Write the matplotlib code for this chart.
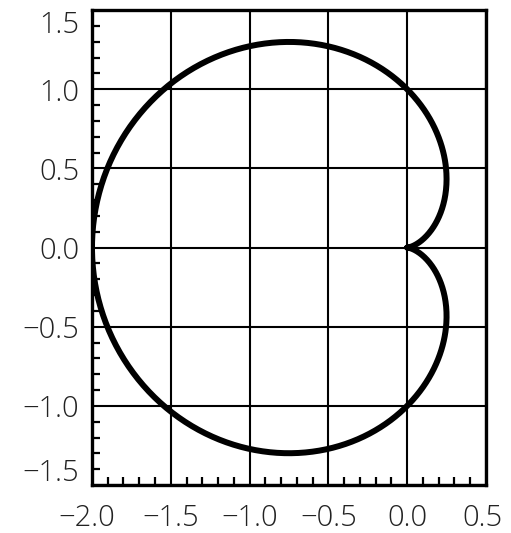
import numpy as np
import matplotlib.pyplot as plt
import matplotlib.transforms as mtransforms
from matplotlib.ticker import MultipleLocator

# cardioid r = a * (1 - cos(theta))
a = 1.0
theta = np.linspace(0, 2 * np.pi, 721)

x_ticks = [-2.0, -1.5, -1.0, -0.5, 0.0, 0.5]
y_ticks = [-1.5, -1.0, -0.5, 0.0, 0.5, 1.0, 1.5]
x_labels = ['\u22122.0', '\u22121.5', '\u22121.0', '\u22120.5', '0.0', '0.5']
y_labels = ['\u22121.5', '\u22121.0', '\u22120.5', '0.0', '0.5', '1.0', '1.5']

r = a * (1 - np.cos(theta))
xs = r * np.cos(theta)
ys = r * np.sin(theta)

plt.rcParams['font.family'] = ['Open Sans', 'DejaVu Sans']

fig = plt.figure(figsize=(5.11, 5.33), dpi=100)
ax = fig.add_axes([0.180, 0.090, 0.771, 0.891])

ax.plot(xs, ys, color='black', linewidth=4.3, solid_capstyle='round', zorder=3)

ax.set_xlim(-2.0, 0.5)
ax.set_ylim(-1.5, 1.5)

ax.set_xticks(x_ticks)
ax.set_xticklabels(x_labels)
ax.set_yticks(y_ticks)
ax.set_yticklabels(y_labels)
ax.xaxis.set_minor_locator(MultipleLocator(0.1))
ax.yaxis.set_minor_locator(MultipleLocator(0.1))

ax.grid(True, which='major', color='black', linewidth=1.5)
ax.tick_params(which='major', length=0, labelsize=21, labelcolor='#222222')
ax.tick_params(axis='x', which='major', pad=13)
ax.tick_params(axis='y', which='major', pad=9)
ax.tick_params(which='minor', direction='in', length=6, width=1.6, color='black')
for lbl in ax.get_xticklabels() + ax.get_yticklabels():
    lbl.set_fontweight('light')

for s in ax.spines.values():
    s.set_linewidth(2.4)

# nudge the edge labels inward like the reference
def shift(lbl, dx, dy):
    lbl.set_transform(lbl.get_transform() +
                      mtransforms.ScaledTranslation(dx / 100, dy / 100, fig.dpi_scale_trans))

ylbls = ax.get_yticklabels()
shift(ylbls[-1], 0, -12)
shift(ylbls[0], 0, 15)
xlbls = ax.get_xticklabels()
shift(xlbls[0], -5, 0)
shift(xlbls[-1], -3, 0)

fig.savefig('out.png', dpi=100)
